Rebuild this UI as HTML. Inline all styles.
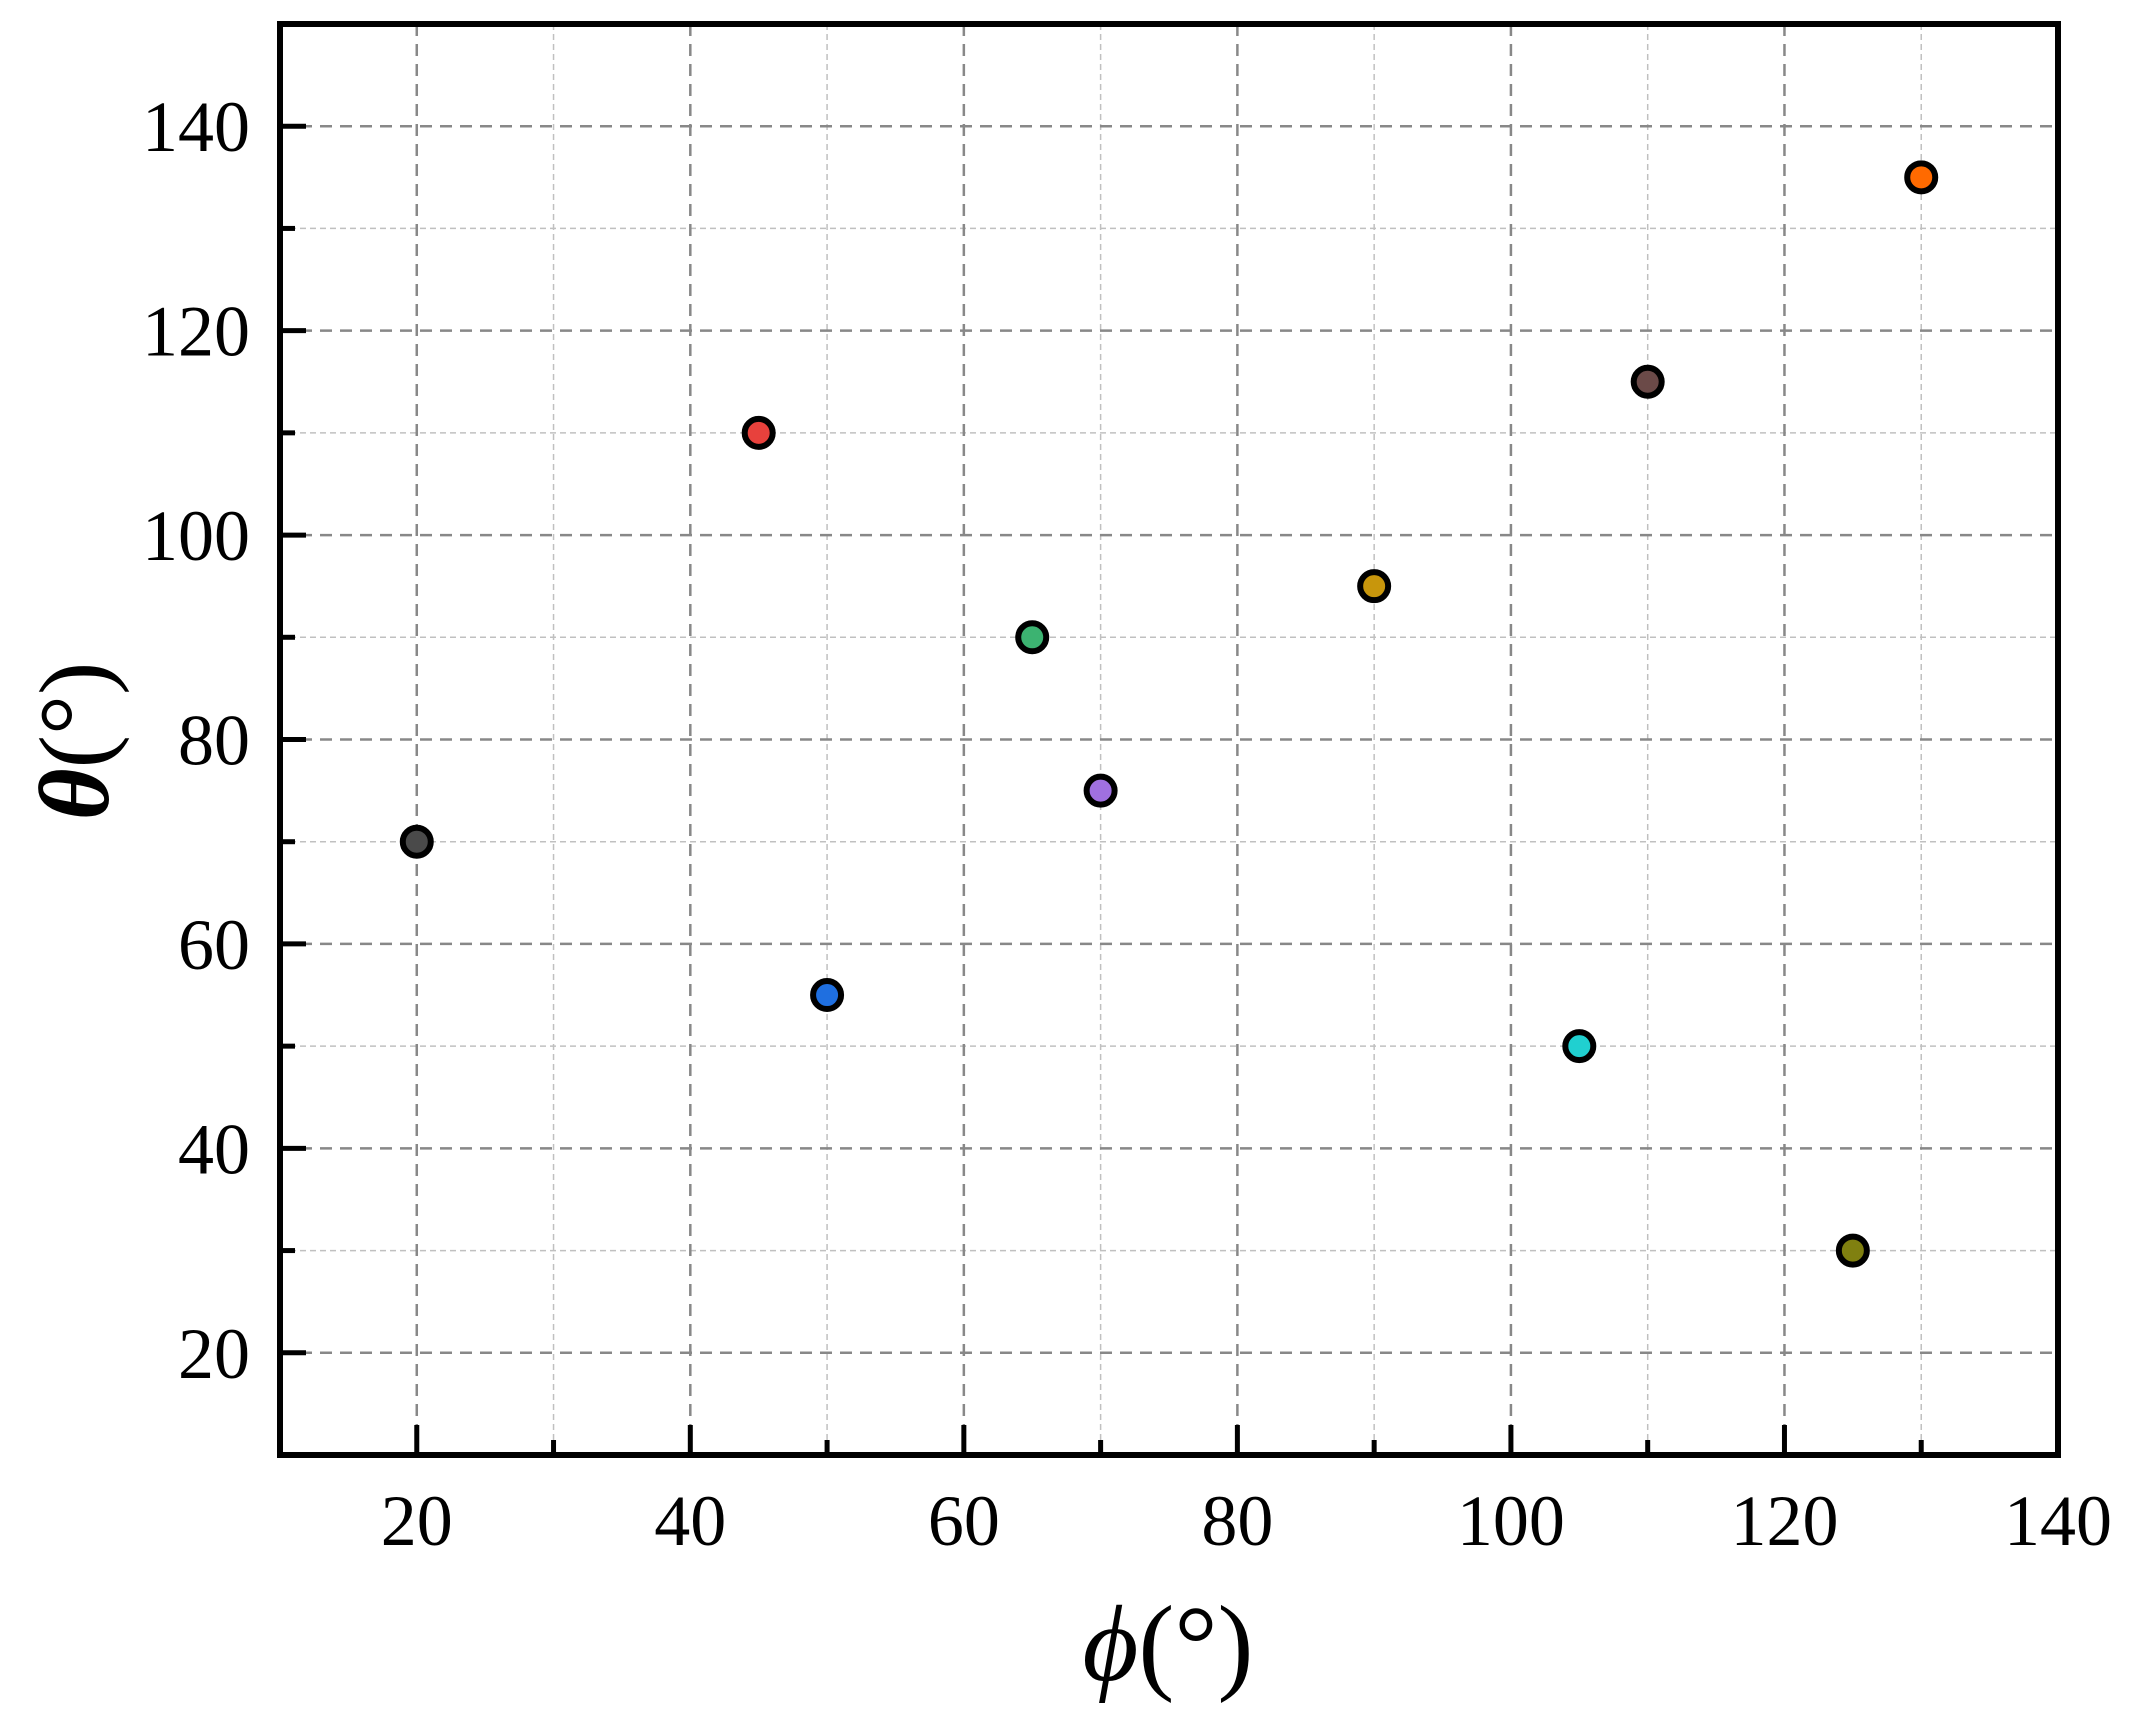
<!DOCTYPE html>
<html><head><meta charset="utf-8"><style>
html,body{margin:0;padding:0;background:#fff;}
svg{display:block;font-family:"Liberation Serif",serif;}
</style></head><body>
<svg id="chart" width="2133" height="1721" viewBox="0 0 2133 1721" xmlns="http://www.w3.org/2000/svg">
<g id="grid"></g>
<g id="ticks"></g>
<g id="points"></g>
<rect x="280" y="24" width="1778" height="1431" fill="none" stroke="#000" stroke-width="6"/>
<text x="1168" y="1680" font-size="108" text-anchor="middle"><tspan font-style="italic">ϕ</tspan>(°)</text>
<text transform="translate(108,741) rotate(-90)" font-size="100" text-anchor="middle"><tspan font-style="italic" font-weight="bold">θ</tspan>(°)</text>
</svg>
<script>
const xVals = [20, 45, 50, 65, 70, 90, 105, 110, 125, 130];
const yVals = [70, 110, 55, 90, 75, 95, 50, 115, 30, 135];
const colors = ["#4a4a4a","#e8413c","#1f6fe0","#3cb371","#a070e0","#c8960c","#20d0d0","#6b4a48","#808010","#ff6a00"];
const xTicks = [20, 40, 60, 80, 100, 120, 140];
const yTicks = [20, 40, 60, 80, 100, 120, 140];
const xMinor = [10, 30, 50, 70, 90, 110, 130];
const yMinor = [30, 50, 70, 90, 110, 130];
const L=280,R=2058,T=24,B=1455;
const sx=v=>L+(v-10)/(140-10)*(R-L);
const sy=v=>B-(v-10)/(150-10)*(B-T);
const NS="http://www.w3.org/2000/svg";
function mk(tag,attrs,parent){const e=document.createElementNS(NS,tag);for(const k in attrs)e.setAttribute(k,attrs[k]);parent.appendChild(e);return e;}
const grid=document.getElementById('grid'),ticks=document.getElementById('ticks'),pts=document.getElementById('points');
xMinor.forEach(v=>{if(v<=10)return;const x=sx(v);
 const g=mk('line',{x1:x,x2:x,y1:T,y2:B,stroke:'#c0c0c0','stroke-width':1.5,'stroke-dasharray':'6,4'},grid);
 
 const t=mk('line',{x1:x,x2:x,y1:B,y2:B-15,stroke:'#000','stroke-width':5},ticks);
 });
yMinor.forEach(v=>{const y=sy(v);
 const g=mk('line',{x1:L,x2:R,y1:y,y2:y,stroke:'#c0c0c0','stroke-width':1.5,'stroke-dasharray':'6,4'},grid);
 
 const t=mk('line',{x1:L,x2:L+15,y1:y,y2:y,stroke:'#000','stroke-width':5},ticks);
 });
xTicks.forEach(v=>{const x=sx(v);
 if(v<140){const g=mk('line',{x1:x,x2:x,y1:T,y2:B,stroke:'#888','stroke-width':2.5,'stroke-dasharray':'12,8'},grid);
 
 const t=mk('line',{x1:x,x2:x,y1:B,y2:B-30,stroke:'#000','stroke-width':5},ticks);
 }
 const l=mk('text',{x:x,y:1545,'font-size':72,'text-anchor':'middle'},ticks);l.textContent=v;
 });
yTicks.forEach(v=>{const y=sy(v);
 const g=mk('line',{x1:L,x2:R,y1:y,y2:y,stroke:'#888','stroke-width':2.5,'stroke-dasharray':'12,8'},grid);
 
 const t=mk('line',{x1:L,x2:L+26,y1:y,y2:y,stroke:'#000','stroke-width':5},ticks);
 
 const l=mk('text',{x:250,y:y+25,'font-size':72,'text-anchor':'end'},ticks);l.textContent=v;
 });
xVals.forEach((v,i)=>{
 const c=mk('circle',{cx:sx(v),cy:sy(yVals[i]),r:14,fill:colors[i],stroke:'#000','stroke-width':6},pts);
 });
</script>
</body></html>
